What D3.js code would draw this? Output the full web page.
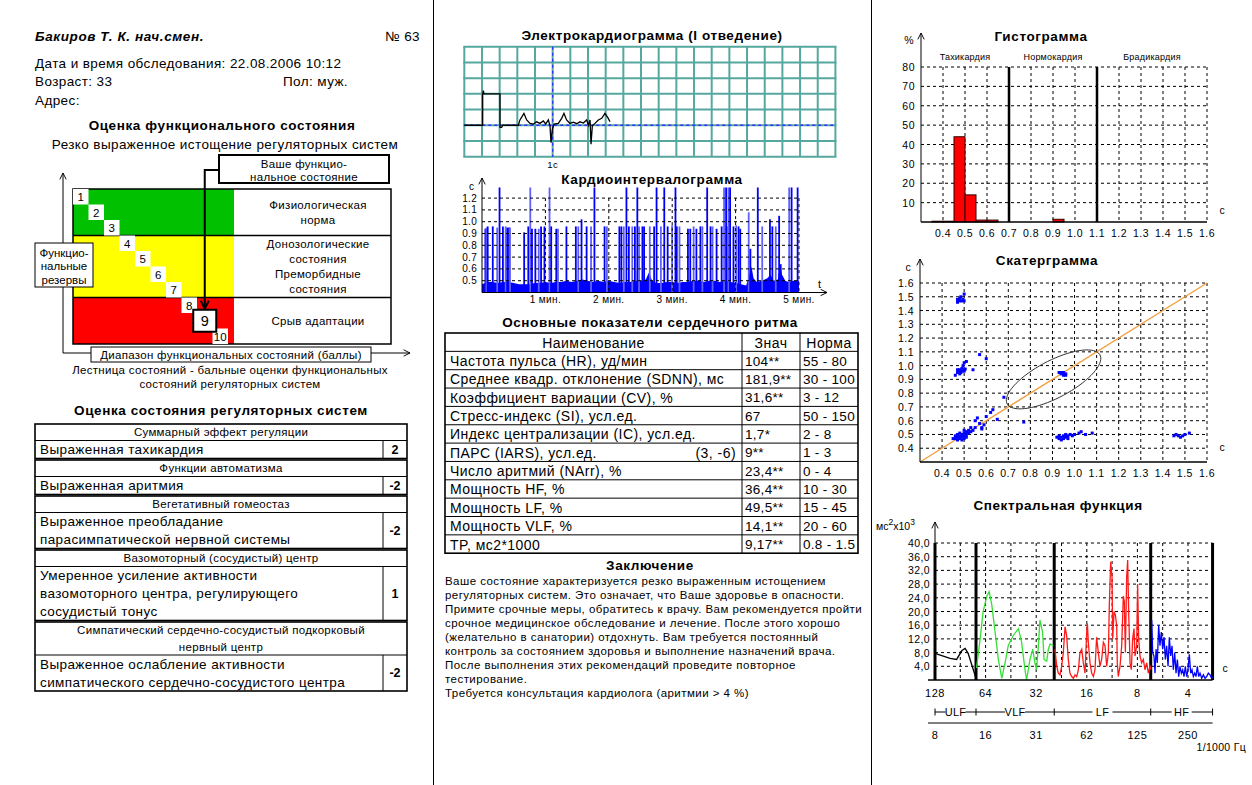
<!DOCTYPE html>
<html lang="ru">
<head>
  <meta charset="UTF-8">
  <title>ВСР - протокол обследования</title>
  <script src="https://cdn.jsdelivr.net/npm/d3@7"></script>
</head>
<body>
<style>
  * {
    padding: 0;
    margin: 0;
  }
  body {
    background: #fff;
  }
  #page text {
    font-family: "Liberation Sans", Arial, sans-serif;
  }
</style>

<svg id="page" width="1252" height="785"></svg>

<script>
  // ---------- данные ----------
  const patientName = "Бакиров Т. К. нач.смен.";
  const protocolNo = "№ 63";
  const infoLines = ["Дата и время обследования: 22.08.2006 10:12", "Возраст: 33", "Адрес:"];
  const sexLabel = "Пол: муж.";
  const stateTitle = "Оценка функционального состояния";
  const stateText = "Резко выраженное истощение регуляторных систем";

  const ladderSteps = [1, 2, 3, 4, 5, 6, 7, 8, 9, 10];
  const zoneEnds = [3, 7, 10];
  const zoneLabels = [["Физиологическая", "норма"], ["Донозологические", "состояния", "Преморбидные", "состояния"], ["Срыв адаптации"]];
  const currentStep = 9;
  const currentLabel = ["Ваше функцио-", "нальное состояние"];
  const reservesLabel = ["Функцио-", "нальные", "резервы"];
  const rangeLabel = "Диапазон функциональных состояний (баллы)";
  const ladderCaption = ["Лестница состояний - бальные оценки функциональных", "состояний регуляторных систем"];

  const regTitle = "Оценка состояния регуляторных систем";
  const regHeads = [["Суммарный эффект регуляции"], ["Функции автоматизма"], ["Вегетативный гомеостаз"],
    ["Вазомоторный (сосудистый) центр"], ["Симпатический сердечно-сосудистый подкорковый", "нервный центр"]];
  const regTexts = [["Выраженная тахикардия"], ["Выраженная аритмия"],
    ["Выраженное преобладание", "парасимпатической нервной системы"],
    ["Умеренное усиление активности", "вазомоторного центра, регулирующего", "сосудистый тонус"],
    ["Выраженное ослабление активности", "симпатического сердечно-сосудистого центра"]];
  const regScores = ["2", "-2", "-2", "1", "-2"];

  // ЭКГ: время, с / амплитуда, мВ
  const ecgT = [0, 0.208, 0.208, 0.216, 0.222, 0.404, 0.404, 0.423, 0.434, 0.611, 0.63, 0.675, 0.706, 0.744, 0.781, 0.819,
    0.857, 0.894, 0.921, 0.951, 0.97, 0.981, 0.996, 1.015, 1.064, 1.102, 1.128, 1.158, 1.196, 1.234, 1.272, 1.309,
    1.347, 1.385, 1.404, 1.423, 1.434, 1.449, 1.479, 1.517, 1.555, 1.592, 1.623, 1.649];
  const ecgV = [0, 0, 1.0, 1.1, 1.0, 1.0, -0.07, -0.07, 0, 0, 0.17, 0.38, 0.17, 0.06, 0.04, 0.11,
    0.06, 0.14, 0.04, 0.17, -0.02, -0.55, -0.15, 0.04, 0.06, 0.22, 0.38, 0.17, 0.06, 0.1, 0.05, 0.11,
    0.07, 0.17, 0, 0.17, -0.6, -0.02, 0.06, 0.17, 0.22, 0.38, 0.25, 0.11];

  // кардиоинтервалограмма: [время, с; RR, с]
  const cigBase = [[0, 0.47], [5, 0.49], [10, 0.49], [15, 0.48], [20, 0.49], [25, 0.49], [30, 0.48], [35, 0.47], [40, 0.47],
    [45, 0.47], [50, 0.48], [55, 0.48], [60, 0.49], [65, 0.48], [70, 0.49], [75, 0.49], [80, 0.5], [85, 0.49], [90, 0.5],
    [95, 0.51], [100, 0.5], [105, 0.49], [110, 0.5], [115, 0.49], [120, 0.5], [125, 0.49], [130, 0.48], [135, 0.49],
    [140, 0.49], [145, 0.5], [150, 0.5], [155, 0.51], [158, 0.57], [161, 0.5], [165, 0.48], [170, 0.48], [175, 0.49],
    [180, 0.49], [185, 0.48], [190, 0.49], [195, 0.49], [200, 0.5], [205, 0.5], [210, 0.49], [215, 0.5], [220, 0.5],
    [225, 0.49], [230, 0.5], [235, 0.49], [240, 0.48], [245, 0.47], [250, 0.46], [253, 0.55], [255, 0.62], [257, 0.52],
    [260, 0.49], [265, 0.5], [270, 0.52], [273, 0.55], [276, 0.5], [280, 0.51], [282, 0.64], [284, 0.55], [287, 0.5],
    [290, 0.49], [295, 0.5], [300, 0.5]];
  const cigSpikes = [[3.2, 0.94], [4.2, 0.95], [5.4, 0.96], [10.2, 0.96], [14.4, 0.95], [16.6, 1.3], [19.8, 0.96], [22.4, 0.96],
    [24.0, 0.95], [25.6, 0.95], [26.5, 0.95], [39.9, 0.91], [43.8, 0.96], [45.7, 1.3], [47.3, 0.94], [50.5, 0.94],
    [53.7, 0.94], [55.9, 0.96], [59.1, 0.96], [63.9, 1.3], [65.5, 0.96], [70.3, 0.94], [71.9, 0.94], [79.9, 0.96],
    [88.8, 0.96], [91.1, 0.96], [94.2, 1.02], [99.0, 0.96], [103.2, 0.96], [106.4, 1.3], [116.0, 0.96], [118.2, 0.96],
    [130.0, 0.96], [131.9, 0.96], [134.2, 0.96], [136.7, 1.3], [139.0, 0.96], [142.2, 0.96], [144.7, 0.96], [147.0, 1.3],
    [148.6, 0.96], [151.8, 0.96], [153.4, 0.96], [158.8, 0.96], [162.9, 0.96], [165.2, 1.3], [169.3, 0.96], [172.5, 1.3],
    [175.7, 0.96], [179.9, 0.97], [183.1, 1.3], [184.3, 0.96], [186.9, 0.96], [194.9, 0.94], [197.1, 0.94], [200.3, 0.96],
    [202.9, 0.94], [206.7, 0.96], [208.6, 0.96], [213.1, 1.3], [216.3, 0.96], [218.2, 0.96], [222.0, 0.94], [226.8, 0.96],
    [229.1, 1.3], [231.0, 1.3], [231.6, 0.96], [233.2, 1.3], [234.8, 1.3], [238.0, 0.96], [240.6, 0.97], [242.8, 0.96],
    [244.4, 0.94], [252.4, 1.08], [254.0, 0.77], [261.0, 1.3], [265.2, 0.96], [272.5, 1.02], [274.8, 0.96], [278.0, 0.96],
    [281.2, 1.05], [282.7, 0.64], [290.7, 1.3], [293.0, 1.3], [298.7, 1.3]];
  const cigTicksY = [0.5, 0.6, 0.7, 0.8, 0.9, 1.0, 1.1, 1.2];
  const cigMinutes = [1, 2, 3, 4, 5];

  // основные показатели
  const hrvHeader = ["Наименование", "Знач", "Норма"];
  const hrvNames = ["Частота пульса (HR), уд/мин", "Среднее квадр. отклонение (SDNN), мс", "Коэффициент вариации (CV), %",
    "Стресс-индекс (SI), усл.ед.", "Индекс централизации (IC), усл.ед.", "ПАРС (IARS), усл.ед.", "Число аритмий (NArr), %",
    "Мощность HF, %", "Мощность LF, %", "Мощность VLF, %", "TP, мс2*1000"];
  const hrvNotes = ["", "", "", "", "", "(3, -6)", "", "", "", "", ""];
  const hrvValues = ["104**", "181,9**", "31,6**", "67", "1,7*", "9**", "23,4**", "36,4**", "49,5**", "14,1**", "9,17**"];
  const hrvNorms = ["55 - 80", "30 - 100", "3 - 12", "50 - 150", "2 - 8", "1 - 3", "0 - 4", "10 - 30", "15 - 45", "20 - 60", "0.8 - 1.5"];

  const conclusionLines = ["Ваше состояние характеризуется резко выраженным истощением",
    "регуляторных систем. Это означает, что Ваше здоровье в опасности.",
    "Примите срочные меры, обратитесь к врачу. Вам рекомендуется пройти",
    "срочное медицинское обследование и лечение. После этого хорошо",
    "(желательно в санатории) отдохнуть. Вам требуется постоянный",
    "контроль за состоянием здоровья и выполнение назначений врача.",
    "После выполнения этих рекомендаций проведите повторное",
    "тестирование."];
  const cardioNote = "Требуется консультация кардиолога (аритмии > 4 %)";

  // гистограмма RR, шаг 0.05 с
  const histBins = [0.35, 0.40, 0.45, 0.50, 0.55, 0.60, 0.65, 0.70, 0.75, 0.80, 0.85, 0.90, 0.95, 1.00, 1.05, 1.10,
    1.15, 1.20, 1.25, 1.30, 1.35, 1.40, 1.45, 1.50, 1.55];
  const histPct = [0.4, 0.4, 44, 14, 1, 1, 0, 0, 0, 0, 0, 1.4, 0, 0, 0, 0, 0, 0, 0, 0, 0, 0, 0, 0, 0];
  const histTicksX = [0.4, 0.5, 0.6, 0.7, 0.8, 0.9, 1.0, 1.1, 1.2, 1.3, 1.4, 1.5, 1.6];
  const histTicksY = [10, 20, 30, 40, 50, 60, 70, 80];
  const rhythmBounds = [0.3, 0.7, 1.1, 1.6];
  const rhythmLabels = ["Тахикардия", "Нормокардия", "Брадикардия"];

  // скатерграмма: [RRn, RRn+1]
  const rrPairs = [[0.47, 1.46], [0.475, 1.48], [0.48, 1.49], [0.49, 1.47], [0.485, 1.5], [0.495, 1.48], [0.5, 1.47],
    [0.5, 1.52], [0.48, 1.47], [0.47, 1.48],
    [0.46, 0.93], [0.47, 0.95], [0.475, 0.96], [0.48, 0.97], [0.485, 0.95], [0.49, 0.98], [0.5, 0.97], [0.495, 1.0],
    [0.5, 1.02], [0.51, 1.03], [0.48, 0.94], [0.49, 0.96], [0.5, 0.96], [0.47, 0.97], [0.505, 0.975], [0.54, 0.97],
    [0.57, 1.08], [0.6, 1.05],
    [0.45, 0.47], [0.46, 0.47], [0.47, 0.48], [0.48, 0.47], [0.47, 0.46], [0.48, 0.49], [0.49, 0.48], [0.5, 0.49],
    [0.49, 0.5], [0.5, 0.51], [0.51, 0.5], [0.5, 0.47], [0.51, 0.52], [0.52, 0.51], [0.52, 0.53], [0.53, 0.52],
    [0.5, 0.53], [0.53, 0.55], [0.54, 0.53], [0.55, 0.55], [0.46, 0.49], [0.47, 0.5], [0.48, 0.51], [0.51, 0.48],
    [0.49, 0.46], [0.55, 0.6], [0.56, 0.62], [0.57, 0.58], [0.58, 0.55], [0.59, 0.57], [0.6, 0.63], [0.62, 0.66],
    [0.63, 0.68], [0.65, 0.61], [0.58, 0.54], [0.68, 0.77],
    [0.93, 0.95], [0.94, 0.94], [0.95, 0.93], [0.96, 0.94], [0.94, 0.95], [0.95, 0.95], [0.96, 0.93], [0.77, 0.59],
    [0.92, 0.48], [0.93, 0.47], [0.94, 0.48], [0.95, 0.49], [0.96, 0.48], [0.97, 0.49], [0.98, 0.5], [0.95, 0.47],
    [0.93, 0.49], [0.97, 0.47], [0.99, 0.49], [1.0, 0.5], [1.02, 0.51], [1.03, 0.52], [1.05, 0.5], [1.08, 0.51],
    [0.96, 0.5], [0.94, 0.46],
    [1.45, 0.49], [1.46, 0.5], [1.47, 0.49], [1.48, 0.48], [1.49, 0.49], [1.5, 0.5], [1.52, 0.51]];
  const scatterTicks = [0.4, 0.5, 0.6, 0.7, 0.8, 0.9, 1.0, 1.1, 1.2, 1.3, 1.4, 1.5, 1.6];
  const ellipseCenter = [0.905, 0.9];
  const ellipseAxes = [0.28, 0.115]; // вдоль / поперёк диагонали

  // спектр: частота, мГц / мощность, мс2х10^3
  const ulfF = [7.81, 9.6, 10.5, 11.3, 11.8, 12.3, 13.7];
  const ulfP = [7.8, 6.3, 6.0, 8.6, 9.2, 7.8, 0.5];
  const vlfF = [13.8, 14.5, 15.1, 15.9, 16.4, 17.0, 17.8, 18.6, 19.5, 20.4, 21.3, 22.8, 24.5, 25.6, 26.8, 27.4, 28.7,
    29.8, 30.7, 31.4, 32.2, 32.9, 34.1, 34.8, 36.1, 36.9, 37.8, 39.5];
  const vlfP = [3.5, 12, 20, 24.5, 25.8, 22, 14, 6, 0.5, 5, 10, 13, 15, 11, 3, 0, 6, 9, 5, 3, 10, 17.5, 14, 6, 5.5, 9, 10.5, 10];
  const lfF = [40.4, 41.4, 42.3, 43.3, 44.3, 45.3, 46.4, 47.4, 48.5, 49.6, 50.8, 52.0, 53.2, 54.4, 55.7, 56.9, 58.3, 59.6,
    61.0, 62.4, 63.0, 63.8, 65.3, 66.8, 68.4, 69.9, 71.5, 73.2, 74.9, 76.6, 78.4, 80.2, 82.1, 84.0, 85.1, 86.7, 88.3,
    89.1, 90.8, 92.4, 94.1, 94.9, 96.2, 98.5, 100.8, 103.1, 104.5, 106.0, 107.9, 109.4, 110.9, 113.0, 115.0, 117.1,
    119.3, 121.0, 123.8, 125.4, 127.2, 129.5, 132.5, 135.5, 138.7, 141.9, 145.2, 148.6, 150.7];
  const lfP = [9, 4, 2, 1.5, 4, 8, 15.5, 13, 6, 2, 1, 0.5, 1.5, 1, 3, 8, 9, 5, 2, 14, 16.5, 11, 5, 2, 1, 3, 12.5, 8, 4, 6,
    11, 10, 4, 8, 22, 34.5, 30, 12, 20, 19, 16, 5, 1, 4, 10, 24.5, 23, 8, 30, 35, 20, 5, 3, 12, 15, 7, 10, 28, 12, 7,
    5, 6, 3, 5, 2, 4, 3];
  const hfF = [152.0, 154.1, 156.9, 159.1, 161.3, 164.2, 167.3, 170.3, 173.5, 176.7, 180.0, 183.3, 186.6, 190.2, 193.6,
    197.2, 200.8, 204.5, 208.3, 212.2, 216.1, 220.1, 224.1, 228.3, 232.5, 236.7, 241.0, 245.5, 250.0, 254.5, 259.3,
    264.1, 268.9, 274.0, 279.0, 284.1, 289.5, 294.8, 301.6, 308.5, 315.6, 322.9, 330.4, 338.0, 345.8, 349.0];
  const hfP = [17.5, 8, 7, 2, 9, 5, 16, 10, 14, 9, 12.5, 6, 10, 4, 12.5, 7, 10, 3, 8, 2, 6, 1, 4, 2, 3, 1, 4, 1, 3, 7.5,
    2, 3, 1, 2, 1, 4, 1, 2, 0.5, 1.5, 0.5, 1, 2, 1.5, 0.5, 1];
  const bandEdges = [7.8125, 13.7, 40, 150, 350];
  const bandNames = ["ULF", "VLF", "LF", "HF"];
  const periodLabels = [128, 64, 32, 16, 8, 4];
  const freqLabels = [8, 16, 31, 62, 125, 250];
  const specTicksY = [4, 8, 12, 16, 20, 24, 28, 32, 36, 40];

  // ---------- отрисовка ----------
  const svg = d3.select("#page");

  function label(g, x, y, s, size, opt) {
    opt = opt || {};
    return g.append("text").attr("x", x).attr("y", y).text(s)
      .attr("font-size", size)
      .attr("letter-spacing", opt.ls || null)
      .attr("text-anchor", opt.anchor || "start")
      .attr("dominant-baseline", "central")
      .attr("font-weight", opt.bold ? "bold" : null)
      .attr("font-style", opt.italic ? "italic" : null)
      .attr("fill", opt.fill || "#000");
  }

  function hline(g, x1, x2, y, w, dash) {
    return g.append("line").attr("x1", x1).attr("x2", x2).attr("y1", y).attr("y2", y)
      .attr("stroke", "#000").attr("stroke-width", w || 1).attr("stroke-dasharray", dash || null);
  }

  function vline(g, x, y1, y2, w, dash) {
    return g.append("line").attr("x1", x).attr("x2", x).attr("y1", y1).attr("y2", y2)
      .attr("stroke", "#000").attr("stroke-width", w || 1).attr("stroke-dasharray", dash || null);
  }

  // стили подписей
  const T = {size: 13.5, ls: 0.4};                 // основной текст
  const H = {size: 13.5, ls: 0.6, bold: true};     // заголовки
  const S = {size: 11.5, ls: 0.3};                 // мелкий текст
  const N = {size: 10.5, ls: 0.5};                 // подписи осей
  const title = (g, x, y, s) => label(g, x, y, s, H.size, {bold: true, ls: H.ls, anchor: "middle"});

  const defs = svg.append("defs");
  defs.append("marker").attr("id", "arr").attr("viewBox", "0 0 10 10").attr("refX", 9).attr("refY", 5)
    .attr("markerUnits", "userSpaceOnUse").attr("markerWidth", 8).attr("markerHeight", 8).attr("orient", "auto")
    .append("path").attr("d", "M1,1L9,5L1,9").attr("fill", "none").attr("stroke", "#000").attr("stroke-width", 1.2);
  defs.append("marker").attr("id", "arrBold").attr("viewBox", "0 0 10 10").attr("refX", 9).attr("refY", 5)
    .attr("markerUnits", "userSpaceOnUse").attr("markerWidth", 10).attr("markerHeight", 10).attr("orient", "auto")
    .append("path").attr("d", "M1,1L9,5L1,9").attr("fill", "none").attr("stroke", "#000").attr("stroke-width", 2);

  // разделители колонок
  vline(svg, 433.5, 0, 785);
  vline(svg, 871.5, 0, 785);

  /**
   * @name левая колонка
   */
  const left = svg.append("g");
  label(left, 35, 36, patientName, H.size, {bold: true, italic: true, ls: H.ls});
  label(left, 420, 36, protocolNo, T.size, {anchor: "end", ls: T.ls});
  infoLines.forEach((s, i) => label(left, 35, 63 + i * 18.5, s, T.size, {ls: T.ls}));
  label(left, 283, 81.5, sexLabel, T.size, {ls: T.ls});
  title(left, 222, 125, stateTitle);
  label(left, 225, 144, stateText, T.size, {anchor: "middle", ls: T.ls});

  // лестница состояний
  const stepX = d3.scaleLinear().domain([0, 10]).range([73, 228]);
  const stepY = d3.scaleLinear().domain([0, 10]).range([189, 344]);
  const zoneColors = ["#00c000", "#ffff00", "#ff0000"];
  const ladder = left.append("g");
  const boxL = 73, boxM = 234, boxR = 391;

  vline(ladder, 63, 353, 173).attr("marker-end", "url(#arr)");
  hline(ladder, 63, 410, 353).attr("marker-end", "url(#arr)");

  zoneEnds.forEach((e, i) => {
    const s0 = i ? zoneEnds[i - 1] : 0;
    const y0 = stepY(s0), y1 = stepY(e);
    ladder.append("rect").attr("x", boxL).attr("y", y0).attr("width", boxM - boxL).attr("height", y1 - y0)
      .attr("fill", zoneColors[i]);
    const lines = zoneLabels[i];
    lines.forEach((s, j) => label(ladder, 318, (y0 + y1) / 2 + (j - (lines.length - 1) / 2) * 15.3, s, S.size,
      {anchor: "middle", ls: S.ls}));
    if (i) hline(ladder, boxL, boxR, y0, 1.5);
  });
  ladder.append("rect").attr("x", boxL).attr("y", stepY(0)).attr("width", boxR - boxL).attr("height", stepY(10) - stepY(0))
    .attr("fill", "none").attr("stroke", "#000").attr("stroke-width", 1.5);

  const cell = stepX(1) - stepX(0);
  ladderSteps.forEach(s => {
    if (s === currentStep) return;
    ladder.append("rect").attr("x", stepX(s - 1)).attr("y", stepY(s - 1)).attr("width", cell).attr("height", cell).attr("fill", "#fff");
    label(ladder, stepX(s - 0.5), stepY(s - 0.5) + 0.5, s, 11.5, {anchor: "middle"});
  });
  const cx9 = stepX(currentStep - 0.5), cy9 = stepY(currentStep - 0.5);
  ladder.append("rect").attr("x", cx9 - 11.5).attr("y", cy9 - 11).attr("width", 23).attr("height", 22)
    .attr("fill", "#fff").attr("stroke", "#000").attr("stroke-width", 2);
  label(ladder, cx9, cy9 + 0.5, currentStep, 14.5, {anchor: "middle"});

  ladder.append("rect").attr("x", 219).attr("y", 155).attr("width", 170).attr("height", 28)
    .attr("fill", "#fff").attr("stroke", "#000").attr("stroke-width", 2);
  currentLabel.forEach((s, i) => label(ladder, 304, 163.5 + i * 13, s, S.size, {anchor: "middle", ls: S.ls}));
  ladder.append("path").attr("d", `M219,170H${cx9}V${cy9 - 12}`).attr("fill", "none")
    .attr("stroke", "#000").attr("stroke-width", 2).attr("marker-end", "url(#arrBold)");

  ladder.append("rect").attr("x", 35).attr("y", 243).attr("width", 58).attr("height", 44)
    .attr("fill", "#fff").attr("stroke", "#000");
  reservesLabel.forEach((s, i) => label(ladder, 64, 252.5 + i * 13.5, s, S.size, {anchor: "middle"}));

  ladder.append("rect").attr("x", 91).attr("y", 347).attr("width", 280).attr("height", 15)
    .attr("fill", "#fff").attr("stroke", "#000");
  label(ladder, 231, 355, rangeLabel, S.size, {anchor: "middle", ls: S.ls});
  ladderCaption.forEach((s, i) => label(ladder, 230, 370 + i * 13.5, s, S.size, {anchor: "middle", ls: S.ls}));

  // регуляторные системы
  title(left, 221, 410, regTitle);
  const tx0 = 35, tx1 = 407, tsc = 383;
  let ty = 424;
  regHeads.forEach((head, i) => {
    const body = regTexts[i];
    const hh = head.length * 16.5, bh = body.length * 18;
    head.forEach((s, j) => label(left, (tx0 + tx1) / 2, ty + 8.25 + j * 16.5, s, S.size, {anchor: "middle", ls: S.ls}));
    body.forEach((s, j) => label(left, tx0 + 5, ty + hh + 9 + j * 18, s, T.size, {ls: T.ls}));
    label(left, (tsc + tx1) / 2, ty + hh + bh / 2, regScores[i], 12.5, {anchor: "middle", bold: true});
    hline(left, tx0, tx1, ty + hh);
    vline(left, tsc, ty + hh, ty + hh + bh);
    left.append("rect").attr("x", tx0).attr("y", ty).attr("width", tx1 - tx0).attr("height", hh + bh)
      .attr("fill", "none").attr("stroke", "#000").attr("stroke-width", 1.6);
    ty += hh + bh + 1.5;
  });

  /**
   * @name ЭКГ
   */
  const mid = svg.append("g");
  title(mid, 652, 35, "Электрокардиограмма (I отведение)");
  const ecgX = d3.scaleLinear().domain([0, 4.2]).range([464.3, 835.4]);
  const ecgY = d3.scaleLinear().domain([-1, 2.5]).range([156.7, 46.7]);
  const gridCol = "#55a89e";
  d3.range(0, 22).forEach(k => mid.append("line").attr("x1", ecgX(k * 0.2)).attr("x2", ecgX(k * 0.2))
    .attr("y1", ecgY(-1)).attr("y2", ecgY(2.5)).attr("stroke", gridCol).attr("stroke-width", 2));
  d3.range(0, 8).forEach(k => mid.append("line").attr("y1", ecgY(-1 + k * 0.5)).attr("y2", ecgY(-1 + k * 0.5))
    .attr("x1", ecgX(0) - 1).attr("x2", ecgX(4.2) + 1).attr("stroke", gridCol).attr("stroke-width", 2));
  mid.append("line").attr("x1", ecgX(1)).attr("x2", ecgX(1)).attr("y1", ecgY(2.5)).attr("y2", ecgY(-1))
    .attr("stroke", "#3030ff").attr("stroke-width", 1.3).attr("stroke-dasharray", "3,3");
  mid.append("line").attr("x1", ecgX(0)).attr("x2", ecgX(4.2)).attr("y1", ecgY(0)).attr("y2", ecgY(0))
    .attr("stroke", "#3030ff").attr("stroke-width", 1.3).attr("stroke-dasharray", "3,3");
  mid.append("path").datum(d3.zip(ecgT, ecgV))
    .attr("d", d3.line().x(d => ecgX(d[0])).y(d => ecgY(d[1])))
    .attr("fill", "none").attr("stroke", "#000").attr("stroke-width", 1.3);
  label(mid, ecgX(1), 164, "1с", 9.5, {anchor: "middle", ls: 0.4});

  /**
   * @name кардиоинтервалограмма
   */
  title(mid, 652, 179, "Кардиоинтервалограмма");
  const cigX = d3.scaleLinear().domain([0, 300]).range([482, 799]);
  const cigY = d3.scaleLinear().domain([0.4, 1.3]).range([292.5, 186.3]);
  mid.append("path").datum(cigBase)
    .attr("d", d3.area().x(d => cigX(d[0])).y0(cigY(0.4)).y1(d => cigY(d[1])))
    .attr("fill", "#0000ff");
  mid.selectAll("line.spike").data(cigSpikes).enter().append("line").attr("class", "spike")
    .attr("x1", d => cigX(d[0])).attr("x2", d => cigX(d[0]))
    .attr("y1", cigY(0.4)).attr("y2", d => cigY(Math.min(d[1], 1.29)))
    .attr("stroke", (d, i) => i % 3 === 1 ? "#6060ff" : "#0000ff").attr("stroke-width", 1.8);
  cigTicksY.forEach(v => {
    hline(mid, cigX(0), cigX(300), cigY(v), 1, "3,3");
    label(mid, 477, cigY(v), d3.format(".1f")(v), 10, {anchor: "end", ls: 0.3});
  });
  cigMinutes.forEach(m => {
    vline(mid, cigX(m * 60), cigY(1.2), cigY(0.4), 1, "3,3");
    label(mid, cigX(m * 60), 299.5, m + " мин.", 10, {anchor: "middle", ls: 0.4});
  });
  vline(mid, cigX(0), cigY(0.4), 178).attr("marker-end", "url(#arr)");
  hline(mid, cigX(0), 827, cigY(0.4)).attr("marker-end", "url(#arr)");
  label(mid, 469, 186, "с", 10);
  label(mid, 818, 284, "t", 11);

  /**
   * @name таблица показателей
   */
  title(mid, 650, 322, "Основные показатели сердечного ритма");
  const hx = [445, 742, 800, 858];
  const hy0 = 333, hrow = 18.35;
  const nRows = hrvNames.length + 1;
  const tbl = {size: 14, ls: 0.45};
  const num = {size: 13.5, ls: 0.3};
  hrvHeader.forEach((s, i) => label(mid, (hx[i] + hx[i + 1]) / 2, hy0 + hrow / 2 + 0.5, s, tbl.size, {anchor: "middle", ls: tbl.ls}));
  hrvNames.forEach((s, i) => {
    const yc = hy0 + hrow * (i + 1.5) + 0.5;
    label(mid, hx[0] + 5, yc, s, tbl.size, {ls: tbl.ls});
    if (hrvNotes[i]) label(mid, hx[1] - 6, yc, hrvNotes[i], tbl.size, {anchor: "end", ls: tbl.ls});
    label(mid, hx[1] + 3, yc, hrvValues[i], num.size, {ls: num.ls});
    label(mid, hx[2] + 3, yc, hrvNorms[i], num.size, {ls: num.ls});
  });
  d3.range(1, nRows).forEach(r => hline(mid, hx[0], hx[3], hy0 + r * hrow));
  [1, 2].forEach(c => vline(mid, hx[c], hy0, hy0 + nRows * hrow));
  mid.append("rect").attr("x", hx[0]).attr("y", hy0).attr("width", hx[3] - hx[0]).attr("height", nRows * hrow)
    .attr("fill", "none").attr("stroke", "#000").attr("stroke-width", 1.6);

  /**
   * @name заключение
   */
  title(mid, 650, 565, "Заключение");
  conclusionLines.forEach((s, i) => label(mid, 445, 581 + i * 14, s, 11.5, {ls: 0.45}));
  label(mid, 445, 693, cardioNote, 11.5, {ls: 0.45});

  /**
   * @name гистограмма
   */
  const right = svg.append("g");
  title(right, 1041, 36, "Гистограмма");
  const hsX = d3.scaleLinear().domain([0.3, 1.6]).range([921, 1207]);
  const hsY = d3.scaleLinear().domain([0, 80]).range([222, 67]);
  histTicksX.forEach(v => {
    vline(right, hsX(v), hsY(80), hsY(0), 1, "3,3");
    label(right, hsX(v), 233, d3.format(".1f")(v), N.size, {anchor: "middle", ls: N.ls});
  });
  histTicksY.forEach(v => {
    hline(right, hsX(0.3), hsX(1.6), hsY(v), 1, "3,3");
    label(right, 915, hsY(v), v, N.size, {anchor: "end", ls: N.ls});
  });
  rhythmBounds.slice(1, 3).forEach(b => vline(right, hsX(b), hsY(80), hsY(0), 2.5));
  rhythmLabels.forEach((s, i) => label(right, hsX((rhythmBounds[i] + rhythmBounds[i + 1]) / 2), 57, s, 9, {anchor: "middle", ls: 0.2}));
  right.selectAll("rect.bar").data(d3.zip(histBins, histPct)).enter().append("rect").attr("class", "bar")
    .attr("x", d => hsX(d[0])).attr("width", hsX(0.35) - hsX(0.3))
    .attr("y", d => hsY(d[1])).attr("height", d => hsY(0) - hsY(d[1]))
    .attr("fill", "#ff0000").attr("stroke", "#300").attr("stroke-width", 1);
  hline(right, hsX(0.3), hsX(1.6), hsY(0), 1.3);
  vline(right, hsX(0.3), hsY(0), 33).attr("marker-end", "url(#arr)");
  label(right, 909, 40, "%", N.size, {anchor: "middle"});
  label(right, 1222, 210, "с", N.size, {anchor: "middle"});

  /**
   * @name скатерграмма
   */
  title(right, 1047, 260, "Скатерграмма");
  const scX = d3.scaleLinear().domain([0.3, 1.6]).range([920, 1207]);
  const scY = d3.scaleLinear().domain([0.3, 1.6]).range([462, 283]);
  scatterTicks.forEach(v => {
    vline(right, scX(v), scY(1.6), scY(0.3), 1, "3,3");
    hline(right, scX(0.3), scX(1.6), scY(v), 1, "3,3");
    label(right, scX(v), 473, d3.format(".1f")(v), N.size, {anchor: "middle", ls: N.ls});
    label(right, 914, scY(v), d3.format(".1f")(v), N.size, {anchor: "end", ls: N.ls});
  });
  right.append("line").attr("x1", scX(0.3)).attr("y1", scY(0.3)).attr("x2", scX(1.6)).attr("y2", scY(1.6))
    .attr("stroke", "#f2a043").attr("stroke-width", 1.3);
  const ellPts = d3.range(0, 73).map(k => {
    const a = k / 72 * 2 * Math.PI;
    const u = ellipseAxes[0] * Math.cos(a), w = ellipseAxes[1] * Math.sin(a);
    return [ellipseCenter[0] + (u - w) / Math.SQRT2, ellipseCenter[1] + (u + w) / Math.SQRT2];
  });
  right.append("path").datum(ellPts).attr("d", d3.line().x(d => scX(d[0])).y(d => scY(d[1])))
    .attr("fill", "none").attr("stroke", "#333").attr("stroke-width", 1);
  right.selectAll("rect.pt").data(rrPairs).enter().append("rect").attr("class", "pt")
    .attr("x", d => scX(d[0]) - 1.5).attr("y", d => scY(d[1]) - 1.5).attr("width", 3).attr("height", 3)
    .attr("fill", "#0000ff");
  hline(right, scX(0.3), scX(1.6), scY(0.3), 1.3);
  vline(right, scX(0.3), scY(0.3), 259).attr("marker-end", "url(#arr)");
  label(right, 908, 267, "с", N.size, {anchor: "middle"});
  label(right, 1222, 447, "с", N.size, {anchor: "middle"});

  /**
   * @name спектральная функция
   */
  title(right, 1058, 505, "Спектральная функция");
  const spX = d3.scaleLog().base(2).domain([1000 / 128, 250]).range([935, 1188]);
  const spY = d3.scaleLinear().domain([0, 40]).range([680, 543]);
  const spRight = spX(bandEdges[4]);
  periodLabels.forEach(p => [1, Math.SQRT2].forEach(m => {
    const f = 1000 / p * m;
    if (f < spRight && f > bandEdges[0] * 1.01) vline(right, spX(f), spY(40), spY(0), 1, "3,3");
  }));
  specTicksY.forEach(v => {
    hline(right, spX(bandEdges[0]), spRight, spY(v), 1, "3,3");
    label(right, 930, spY(v), d3.format(".1f")(v).replace(".", ","), N.size, {anchor: "end", ls: 0.4});
  });
  bandEdges.forEach(f => vline(right, spX(f), spY(40), spY(0), 3));

  const spLine = d3.line().x(d => spX(d[0])).y(d => spY(d[1]));
  [[ulfF, ulfP, "#000"], [vlfF, vlfP, "#33e033"], [lfF, lfP, "#ff1a1a"], [hfF, hfP, "#0000ff"]].forEach(b => {
    right.append("path").datum(d3.zip(b[0], b[1])).attr("d", spLine)
      .attr("fill", "none").attr("stroke", b[2]).attr("stroke-width", 1.3);
  });
  hline(right, 928, spRight, spY(0), 1.3);
  vline(right, spX(bandEdges[0]), spY(0), 522).attr("marker-end", "url(#arr)");

  const unit = right.append("text").attr("x", 876).attr("y", 530).attr("font-size", 10.5);
  unit.append("tspan").text("мс");
  unit.append("tspan").text("2").attr("dy", -5).attr("font-size", 8.5);
  unit.append("tspan").text("х10").attr("dy", 5);
  unit.append("tspan").text("3").attr("dy", -5).attr("font-size", 8.5);
  label(right, 1225, 668, "с", N.size, {anchor: "middle"});

  periodLabels.forEach(p => label(right, spX(1000 / p), 693, p, 11, {anchor: "middle", ls: 0.5}));

  // полосы частот
  hline(right, spX(bandEdges[0]), spRight, 712);
  bandEdges.forEach(f => vline(right, spX(f), 708.5, 715.5));
  bandNames.forEach((s, i) => {
    const xc = (spX(bandEdges[i]) + spX(bandEdges[i + 1])) / 2;
    right.append("rect").attr("x", xc - 10).attr("y", 705).attr("width", 20).attr("height", 14).attr("fill", "#fff");
    label(right, xc, 712, s, 11, {anchor: "middle", ls: 0.3});
  });
  hline(right, 928, spRight, 723);
  freqLabels.forEach((f, i) => label(right, spX(1000 / periodLabels[i]), 735, f, 11, {anchor: "middle", ls: 0.5}));
  label(right, 1246, 747, "1/1000 Гц", 10.5, {anchor: "end", ls: 0.3});
</script>
</body>
</html>
